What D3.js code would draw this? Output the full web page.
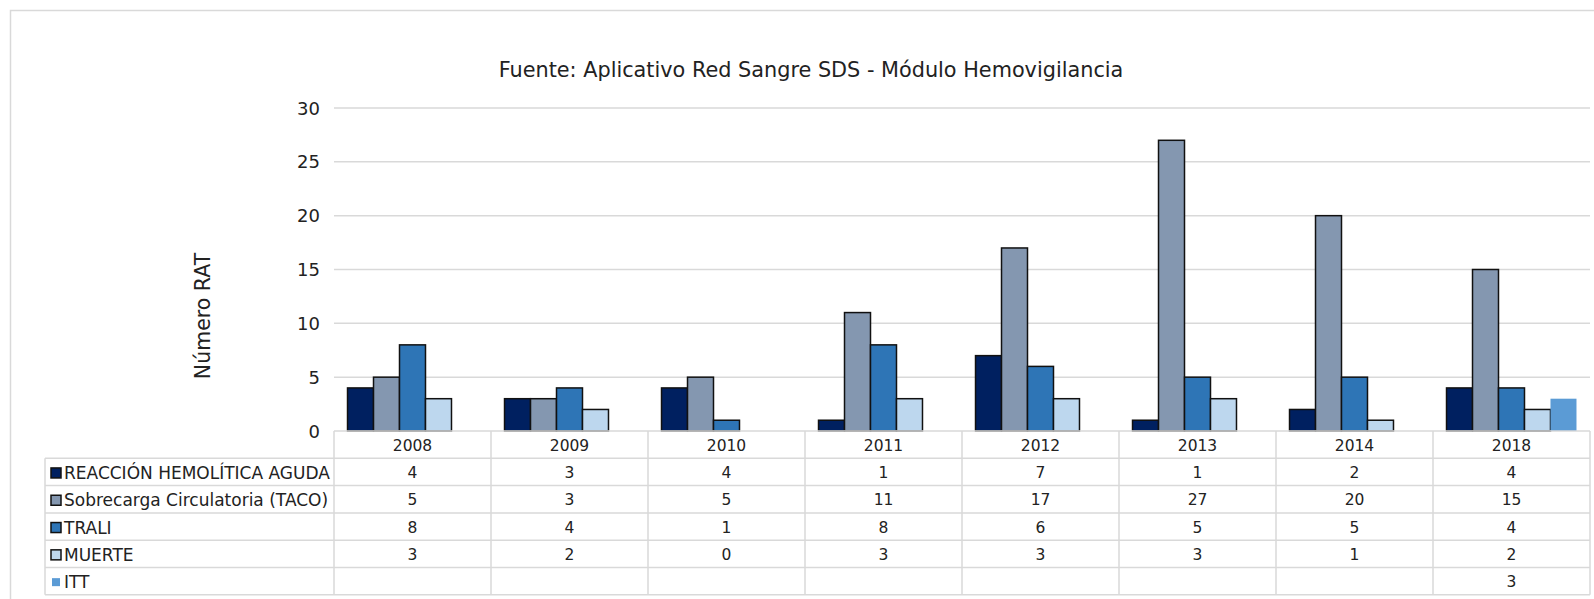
<!DOCTYPE html>
<html>
<head>
<meta charset="utf-8">
<script src="https://cdn.jsdelivr.net/npm/d3@7.9.0/dist/d3.min.js"></script>
<style>
  body { margin: 0; background: #fff; }
  svg { display: block; font-family: 'Century Gothic', 'DejaVu Sans', sans-serif; }
</style>
</head>
<body>
<svg id="chart" width="1594" height="599"></svg>
<script>
// ---- data ----
const years = ['2008', '2009', '2010', '2011', '2012', '2013', '2014', '2018'];
const seriesNames = ['REACCIÓN HEMOLÍTICA AGUDA', 'Sobrecarga Circulatoria (TACO)', 'TRALI', 'MUERTE', 'ITT'];
const reaccion = [4, 3, 4, 1, 7, 1, 2, 4];
const taco = [5, 3, 5, 11, 17, 27, 20, 15];
const trali = [8, 4, 1, 8, 6, 5, 5, 4];
const muerte = [3, 2, 0, 3, 3, 3, 1, 2];
const itt = [null, null, null, null, null, null, null, 3];
const yTicks = [0, 5, 10, 15, 20, 25, 30];

const seriesValues = [reaccion, taco, trali, muerte, itt];
const colors = ['#002060', '#8497B0', '#2E75B6', '#BDD7EE', '#5B9BD5'];
const outlined = [true, true, true, true, false];

const svg = d3.select('#chart');
const grid = '#d9d9d9';

// chart frame
svg.append('rect')
  .attr('x', 10.5).attr('y', 10.5)
  .attr('width', 1600).attr('height', 620)
  .attr('fill', 'none').attr('stroke', grid).attr('stroke-width', 1.5);

const plot = { left: 334, right: 1590, top: 108, bottom: 431 };

const x = d3.scaleBand().domain(years).range([plot.left, plot.right]);
const inner = d3.scaleBand().domain(d3.range(seriesNames.length))
  .range([0, x.bandwidth()]).paddingOuter(0.52);
const y = d3.scaleLinear().domain([0, 30]).range([plot.bottom, plot.top]);

// gridlines
svg.append('g').selectAll('line')
  .data(yTicks.filter(d => d > 0))
  .join('line')
  .attr('x1', plot.left).attr('x2', plot.right)
  .attr('y1', d => y(d)).attr('y2', d => y(d))
  .attr('stroke', grid).attr('stroke-width', 1.5);

// y axis labels
svg.append('g').selectAll('text')
  .data(yTicks)
  .join('text')
  .attr('x', 320).attr('y', d => y(d))
  .attr('text-anchor', 'end').attr('dominant-baseline', 'central')
  .attr('font-size', 18).attr('fill', '#222')
  .text(d => d);

// title
svg.append('text')
  .attr('x', 811).attr('y', 70)
  .attr('text-anchor', 'middle').attr('dominant-baseline', 'central')
  .attr('font-size', 20.8).attr('fill', '#222')
  .text('Fuente: Aplicativo Red Sangre SDS - Módulo Hemovigilancia');

// y axis title
svg.append('text')
  .attr('transform', 'translate(203,316) rotate(-90)')
  .attr('text-anchor', 'middle').attr('dominant-baseline', 'central')
  .attr('font-size', 20.5).attr('fill', '#222')
  .text('Número RAT');

// bars
const bars = [];
seriesValues.forEach((vals, s) => {
  vals.forEach((v, i) => {
    if (v !== null && v > 0) bars.push({ s, year: years[i], v });
  });
});

svg.append('g').selectAll('rect')
  .data(bars)
  .join('rect')
  .attr('x', d => x(d.year) + inner(d.s))
  .attr('y', d => y(d.v))
  .attr('width', inner.bandwidth())
  .attr('height', d => y(0) - y(d.v))
  .attr('fill', d => colors[d.s])
  .attr('stroke', d => outlined[d.s] ? '#111' : 'none')
  .attr('stroke-width', 1.5);

// data table
const rowH = 27.3;
const tableTop = plot.bottom;
const headerBottom = tableTop + rowH;
const tableBottom = headerBottom + rowH * seriesNames.length;
const legendLeft = 45;

const table = svg.append('g')
  .attr('stroke', grid).attr('stroke-width', 1.5);

// axis line / header top
table.append('line')
  .attr('x1', plot.left).attr('x2', plot.right)
  .attr('y1', tableTop).attr('y2', tableTop);
// horizontal lines for rows
table.selectAll('line.row')
  .data(d3.range(seriesNames.length + 1))
  .join('line')
  .attr('class', 'row')
  .attr('x1', legendLeft).attr('x2', plot.right)
  .attr('y1', d => headerBottom + d * rowH)
  .attr('y2', d => headerBottom + d * rowH);
// vertical lines
table.selectAll('line.col')
  .data(years.concat(['end']))
  .join('line')
  .attr('class', 'col')
  .attr('x1', d => d === 'end' ? plot.right : x(d))
  .attr('x2', d => d === 'end' ? plot.right : x(d))
  .attr('y1', tableTop).attr('y2', tableBottom);
table.append('line')
  .attr('x1', legendLeft).attr('x2', legendLeft)
  .attr('y1', headerBottom).attr('y2', tableBottom);

// year headers
svg.append('g').selectAll('text')
  .data(years)
  .join('text')
  .attr('x', d => x(d) + x.bandwidth() / 2)
  .attr('y', tableTop + rowH / 2 + 1)
  .attr('text-anchor', 'middle').attr('dominant-baseline', 'central')
  .attr('font-size', 15.5).attr('fill', '#222')
  .text(d => d);

// rows
seriesNames.forEach((name, s) => {
  const cy = headerBottom + s * rowH + rowH / 2 + 1;
  const g = svg.append('g');
  const k = outlined[s] ? 10 : 8;
  g.append('rect')
    .attr('x', 51 + (outlined[s] ? 0 : 1)).attr('y', cy - k / 2)
    .attr('width', k).attr('height', k)
    .attr('fill', colors[s])
    .attr('stroke', outlined[s] ? '#111' : 'none')
    .attr('stroke-width', 1.5);
  g.append('text')
    .attr('x', 64).attr('y', cy)
    .attr('dominant-baseline', 'central')
    .attr('font-size', 17).attr('fill', '#222')
    .text(name);
  g.selectAll('text.val')
    .data(seriesValues[s].map((v, i) => ({ v, year: years[i] })).filter(d => d.v !== null))
    .join('text')
    .attr('class', 'val')
    .attr('x', d => x(d.year) + x.bandwidth() / 2)
    .attr('y', cy)
    .attr('text-anchor', 'middle').attr('dominant-baseline', 'central')
    .attr('font-size', 15.5).attr('fill', '#222')
    .text(d => d.v);
});
</script>
</body>
</html>
